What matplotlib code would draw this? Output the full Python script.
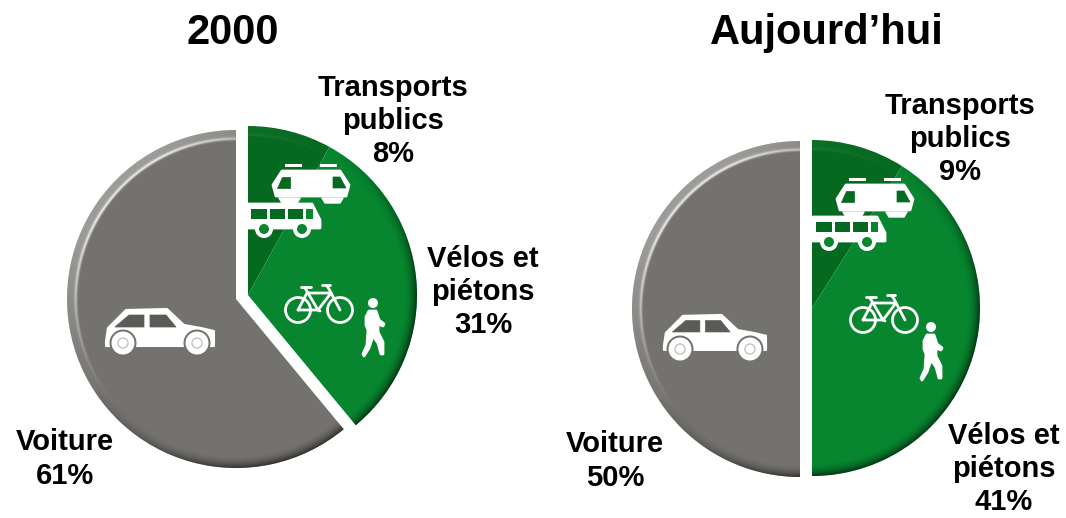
import numpy as np
import matplotlib
matplotlib.use('Agg')
import matplotlib.pyplot as plt
from matplotlib.patches import Polygon, Circle, Rectangle, Wedge

plt.rcParams['font.family'] = ['Liberation Sans', 'DejaVu Sans']

titles = ['2000', 'Aujourd\u2019hui']
transports = [8, 9]
velos = [31, 41]
voiture = [61, 50]

GRAY = '#74726e'
GREEN = '#07852f'
DARK = '#05691f'
H = 518


def Y(y):
    return H - y


def bevel(ax, cx, cy, R, clip, band, strength):
    # rim lighting, light comes from the upper left
    x0, x1 = int(cx - R - 2), int(cx + R + 2)
    y0, y1 = int(cy - R - 2), int(cy + R + 2)
    xx, yy = np.meshgrid(np.arange(x0, x1) + .5, np.arange(y0, y1) + .5)
    dx, dy = xx - cx, yy - cy
    r = np.hypot(dx, dy) + 1e-6
    t = np.clip((R - r) / 13., 0, 1)
    l = (-dx / r + dy / r) * .707
    lit = np.clip(l * 1.1 - .05, 0, 1) ** 1.5
    dim = np.clip(-l + .25, 0, 1)
    rgba = np.zeros(xx.shape + (4,))
    white = lit * (band * np.clip((.75 - t) / .25, 0, 1) + strength * np.exp(-((t - .68) / .12) ** 2))
    black = dim * .6 * (1 - t) ** 2
    rgba[..., :3] = (white > black)[..., None] * 1.
    rgba[..., 3] = np.maximum(white, black)
    im = ax.imshow(rgba, extent=(x0, x1, y0, y1), origin='lower', aspect='auto',
                   interpolation='bilinear', zorder=3)
    im.set_clip_path(clip)


def pix(ax):
    # icons are laid out in image pixels, y going down
    return matplotlib.transforms.Affine2D().scale(1, -1).translate(0, H) + ax.transData


def shape(ax, pts, x, y, s=1., fc='white', ec='white', lw=2., z=4):
    ax.add_patch(Polygon([(x + a * s, y + b * s) for a, b in pts], fc=fc, ec=ec, lw=lw, joinstyle='round',
                         zorder=z, transform=pix(ax)))


def train(ax, x, y):
    shape(ax, [(10, 1), (68, 1), (77, 15), (74, 26), (4, 26), (1, 15)], x, y)
    for a, b in [(13, 30), (48, 65)]:
        ax.add_patch(Rectangle((x + a, y - 6), b - a, 3, fc='white', zorder=4, transform=pix(ax)))
    for a, b in [(7, 28), (50, 71)]:
        shape(ax, [(a, 28), (b, 28), (b - 3, 33), (a + 3, 33)], x, y, lw=1)
    shape(ax, [(10, 7), (18, 7), (18, 18), (5, 18)], x, y, fc=DARK, ec=DARK, lw=.5, z=5)
    shape(ax, [(61, 7), (68, 7), (74, 18), (61, 18)], x, y, fc=DARK, ec=DARK, lw=.5, z=5)


def bus(ax, x, y):
    shape(ax, [(1, 1), (65, 1), (73, 17), (73, 25), (1, 25)], x, y, z=6)
    for a, b, c in [(4, 20, DARK), (23, 38, DARK), (41, 56, DARK), (59, 66, GREEN)]:
        ax.add_patch(Rectangle((x + a, y + 6), b - a, 9.5, fc=c, zorder=7, transform=pix(ax)))
    for a in [17, 55]:
        ax.add_patch(Circle((x + a, y + 26), 9, fc='white', zorder=7, transform=pix(ax)))
        ax.add_patch(Circle((x + a, y + 26), 5, fc=GREEN, zorder=8, transform=pix(ax)))


def bike(ax, x, y):
    kw = dict(color='white', lw=2, zorder=6, solid_capstyle='round', transform=pix(ax))
    for a in [0, 42]:
        ax.add_patch(Circle((x + a, y), 12.5, fc='none', ec='white', lw=2, zorder=6, transform=pix(ax)))
    ax.plot([x, x + 9, x + 33, x + 20, x], [y, y - 17, y - 17, y, y], **kw)
    ax.plot([x + 7, x + 20, x + 22], [y - 22, y, y + 1], **kw)
    ax.plot([x + 42, x + 31, x + 29], [y, y - 21, y - 24], **kw)
    ax.plot([x + 3, x + 13], [y - 23, y - 23], **kw)
    ax.plot([x + 24, x + 32], [y - 25, y - 25], **kw)


def walker(ax, x, y):
    ax.add_patch(Circle((x + 10, y + 5), 5, fc='white', zorder=6, transform=pix(ax)))
    shape(ax, [(6, 13), (13, 13), (16, 22), (21, 26), (20, 28), (15, 26), (15, 34), (20, 44), (20, 56),
               (18, 56), (15, 45), (10, 38), (6, 50), (1, 58), (0, 56), (4, 47), (5, 32), (3, 27), (3, 19)],
          x, y, lw=2, z=6)


def car(ax, x, y, s):
    pts = [(1, 33), (3, 20), (21, 2), (62, 1), (79, 17), (96, 20), (109, 23), (109, 38), (1, 38)]
    shape(ax, pts, x, y, s, lw=1.5)
    for pts in [[(10, 19), (24, 7), (39, 7), (39, 19)], [(45, 7), (61, 7), (71, 19), (45, 19)]]:
        shape(ax, pts, x, y, s, fc='#5c5a57', ec='#5c5a57', lw=.5, z=5)
    for a in [18, 92]:
        ax.add_patch(Circle((x + a * s, y + 35), 13.5, fc=GRAY, zorder=5, transform=pix(ax)))
        ax.add_patch(Circle((x + a * s, y + 35), 11.5, fc='white', zorder=6, transform=pix(ax)))
        ax.add_patch(Circle((x + a * s, y + 35), 5, fc='none', ec='#c4c4c4', lw=1, zorder=7, transform=pix(ax)))


def text_block(ax, x, y, s, size=21):
    ax.text(x, Y(y), s, ha='center', va='center', fontsize=size, fontweight='bold', color='black',
            linespacing=1.24, zorder=9)


fig = plt.figure(figsize=(10.66, 5.18), dpi=100)
ax = fig.add_axes([0, 0, 1, 1])

pies = [(236, 299, 248, 295, 169), (800, 309, 812, 308, 168)]
for i, (gx, gy, cx, cy, R) in enumerate(pies):
    w = ax.pie([voiture[i] / 100], colors=[GRAY], startangle=90, counterclock=True, normalize=False,
               center=(gx, Y(gy)), radius=R)[0]
    bevel(ax, gx, Y(gy), R, w[0], .3, .75)
    w = ax.pie([transports[i] / 100, velos[i] / 100], colors=[DARK, GREEN], startangle=90, counterclock=False,
               normalize=False, center=(cx, Y(cy)), radius=R)[0]
    clip = Wedge((cx, Y(cy)), R, w[1].theta1, w[0].theta2, transform=ax.transData)
    bevel(ax, cx, Y(cy), R, clip, .06, .12)

train(ax, 272, 170)
bus(ax, 247, 203)
bike(ax, 298, 310)
walker(ax, 363, 298)
car(ax, 105, 308, 1.0)

train(ax, 836, 184)
bus(ax, 812, 216)
bike(ax, 863, 320)
walker(ax, 921, 322)
car(ax, 663, 314, .945)

text_block(ax, 233, 33, titles[0], 30)
text_block(ax, 827, 33, titles[1], 30)
text_block(ax, 393, 121, 'Transports\npublics\n%d%%' % transports[0])
text_block(ax, 483, 292, 'V\u00e9los et\npi\u00e9tons\n%d%%' % velos[0])
text_block(ax, 65, 459, 'Voiture\n%d%%' % voiture[0])
text_block(ax, 960, 139, 'Transports\npublics\n%d%%' % transports[1])
text_block(ax, 1004, 469, 'V\u00e9los et\npi\u00e9tons\n%d%%' % velos[1])
text_block(ax, 615, 461, 'Voiture\n%d%%' % voiture[1])

ax.set_aspect('auto')
ax.set_xlim(0, 1066)
ax.set_ylim(0, H)
ax.axis('off')
fig.savefig('out.png', dpi=100)
